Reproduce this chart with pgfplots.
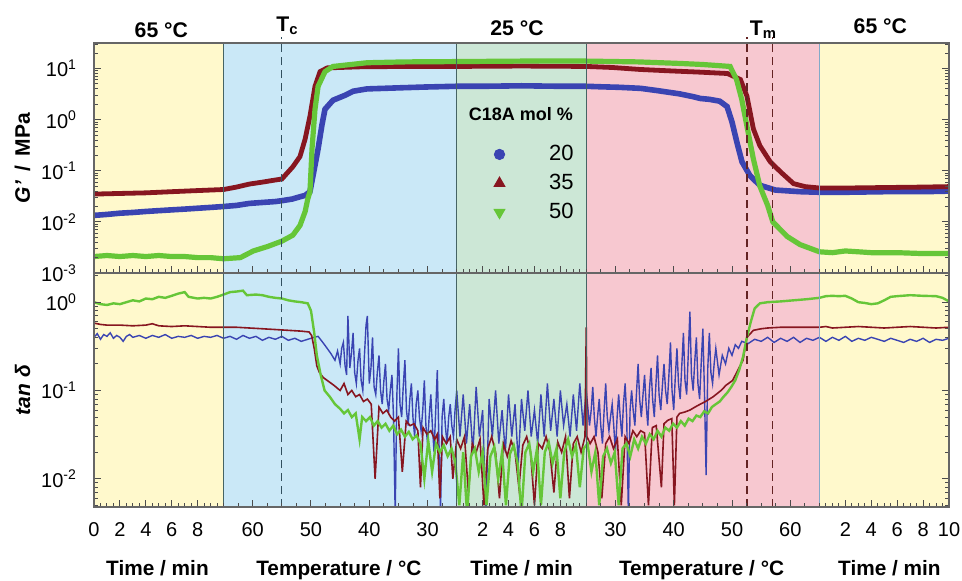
\documentclass[border=0pt]{standalone}
\usepackage{fontspec}
\setmainfont{Liberation Sans}
\usepackage{pgfplots}
\pgfplotsset{compat=1.18}
\definecolor{cblue}{RGB}{58,68,178}
\definecolor{cred}{RGB}{135,22,32}
\definecolor{cgreen}{RGB}{102,198,56}
\definecolor{byel}{RGB}{255,249,204}
\definecolor{bblue}{RGB}{202,232,247}
\definecolor{bgreen}{RGB}{204,231,214}
\definecolor{bpink}{RGB}{247,200,208}
\definecolor{bline}{RGB}{70,100,100}
\definecolor{bline2}{RGB}{130,170,200}
\definecolor{tcc}{RGB}{50,80,95}
\definecolor{tmc}{RGB}{100,35,35}

\begin{document}
\begin{tikzpicture}
\useasboundingbox (-47pt,-36.5pt) rectangle (434pt,253.5pt);

% ---------------- bottom panel: tan delta ----------------
\begin{axis}[at={(0,0)}, anchor=south west, height=117pt,
  width=427.5pt, scale only axis, xmin=0, xmax=66, ymode=log,
  axis on top, clip mode=individual,
  axis line style={draw=black!60, line width=0.7pt},
  xtick pos=bottom, ytick pos=both, tick align=inside,
  major tick length=3.5pt, minor tick length=1.8pt,
  tick style={black!70, line width=0.5pt},
  xtick={0,2,4,6,8,12.25,16.75,21.25,25.75,30,32,34,36,40.25,44.75,49.25,53.75,58,60,62,64,66},
  minor xtick={0.5,1,...,10,28.5,29,...,38,56.5,57,...,66,10,11.125,...,28.1,38,39.125,...,56.1},
  tick label style={font=\fontsize{10}{12}\selectfont},
  xticklabel style={yshift=-4.4pt},
  yticklabel style={xshift=-5pt},
  ymin=0.00479, ymax=2.14,
  ytick={0.01,0.1,1},
  yticklabels={10\textsuperscript{-2},10\textsuperscript{-1},10\textsuperscript{0}},
  minor ytick={0.005,0.006,0.007,0.008,0.009,0.02,0.03,0.04,0.05,0.06,0.07,0.08,0.09,0.2,0.3,0.4,0.5,0.6,0.7,0.8,0.9,2},
  xticklabels={0,2,4,6,8,60,50,40,30,2,4,6,8,30,40,50,60,2,4,6,8,10},
  ylabel={\textbf{\textit{tan δ}}},
  ylabel style={at={(axis description cs:-0.0836,0.5)}, anchor=center, font=\fontsize{10.5}{12}\selectfont},
]
\fill[byel] (rel axis cs:0,0) rectangle (rel axis cs:0.151515,1);
\fill[bblue] (rel axis cs:0.151515,0) rectangle (rel axis cs:0.424242,1);
\fill[bgreen] (rel axis cs:0.424242,0) rectangle (rel axis cs:0.575758,1);
\fill[bpink] (rel axis cs:0.575758,0) rectangle (rel axis cs:0.848485,1);
\fill[byel] (rel axis cs:0.848485,0) rectangle (rel axis cs:1,1);

% blue 20 mol%
\addplot[cblue, line width=0.7pt, forget plot] coordinates {
(0,0.40)(0.25,0.44)(0.5,0.38)(0.75,0.43)(1,0.41)(1.25,0.45)(1.5,0.39)(1.75,0.42)(2,0.40)(2.25,0.36)(2.5,0.41)(2.75,0.43)(3,0.40)(3.5,0.42)(4,0.39)(4.5,0.42)(5,0.40)(5.5,0.43)(6,0.39)(6.5,0.41)(7,0.40)(7.5,0.42)(8,0.39)(8.5,0.41)(9,0.40)(9.5,0.42)(10,0.39)
(10.5,0.41)(11,0.38)(11.5,0.42)(12,0.39)(12.5,0.41)(13,0.37)(13.5,0.40)(14,0.38)(14.5,0.41)(15,0.37)(15.5,0.39)(16,0.36)(16.5,0.38)(17,0.40)(17.3,0.41)(17.6,0.36)(18,0.30)(18.3,0.26)(18.6,0.22)(18.8,0.28)
(19.00,0.20)(19.12,0.30)(19.25,0.35)(19.38,0.19)(19.50,0.15)(19.60,0.70)(19.75,0.18)(19.87,0.26)(20.00,0.45)(20.12,0.16)(20.25,0.12)(20.38,0.22)(20.50,0.30)(20.62,0.13)(20.75,0.10)(20.87,0.24)(21.00,0.55)(21.10,0.70)(21.25,0.12)(21.38,0.18)(21.50,0.40)(21.62,0.11)(21.75,0.09)(21.87,0.16)(22.00,0.25)(22.12,0.10)(22.25,0.07)(22.38,0.13)(22.50,0.20)(22.62,0.08)(22.75,0.06)(22.87,0.10)(23.00,0.15)(23.12,0.05)(23.25,0.004)(23.38,0.09)(23.50,0.30)(23.62,0.07)(23.75,0.05)(23.87,0.11)(24.00,0.22)(24.12,0.06)(24.25,0.04)(24.38,0.08)(24.50,0.12)(24.62,0.05)(24.75,0.03)(24.87,0.07)(25.00,0.10)(25.12,0.05)(25.25,0.035)(25.38,0.06)(25.50,0.13)(25.62,0.04)(25.75,0.025)(25.87,0.05)(26.00,0.09)(26.12,0.04)(26.25,0.02)(26.38,0.06)(26.50,0.17)(26.62,0.03)(26.75,0.004)(26.87,0.05)(27.00,0.08)(27.12,0.04)(27.25,0.025)(27.38,0.05)(27.50,0.07)(27.62,0.04)(27.75,0.03)(27.87,0.06)(28.00,0.10)
(28.25,0.03)(28.50,0.09)(28.75,0.025)(29.00,0.07)(29.25,0.02)(29.50,0.11)(29.75,0.03)(30.00,0.06)(30.25,0.004)(30.50,0.08)(30.75,0.03)(31.00,0.10)(31.25,0.025)(31.50,0.06)(31.75,0.02)(32.00,0.09)(32.25,0.03)(32.50,0.07)(32.75,0.015)(33.00,0.08)(33.25,0.035)(33.50,0.10)(33.75,0.03)(34.00,0.06)(34.25,0.025)(34.50,0.09)(34.75,0.03)(35.00,0.12)(35.25,0.035)(35.50,0.08)(35.75,0.03)(36.00,0.10)(36.25,0.04)(36.50,0.07)(36.75,0.03)(37.00,0.09)(37.25,0.035)(37.50,0.12)(37.75,0.04)(38.00,0.10)
(38.25,0.04)(38.38,0.06)(38.50,0.11)(38.62,0.05)(38.75,0.03)(38.87,0.05)(39.00,0.08)(39.12,0.04)(39.25,0.025)(39.38,0.06)(39.50,0.12)(39.62,0.05)(39.75,0.035)(39.87,0.05)(40.00,0.07)(40.12,0.04)(40.25,0.02)(40.38,0.05)(40.50,0.09)(40.62,0.05)(40.75,0.03)(40.87,0.07)(41.00,0.12)(41.12,0.05)(41.25,0.004)(41.38,0.06)(41.50,0.10)(41.62,0.06)(41.75,0.04)(41.87,0.09)(42.00,0.20)(42.12,0.08)(42.25,0.05)(42.38,0.09)(42.50,0.15)(42.62,0.07)(42.75,0.04)(42.87,0.10)(43.00,0.18)(43.12,0.08)(43.25,0.05)(43.38,0.12)(43.50,0.25)(43.62,0.09)(43.75,0.06)(43.87,0.11)(44.00,0.20)(44.12,0.10)(44.25,0.07)(44.38,0.15)(44.50,0.35)(44.62,0.10)(44.75,0.06)(44.87,0.14)(45.00,0.30)(45.12,0.12)(45.25,0.08)(45.38,0.20)(45.50,0.45)(45.62,0.13)(45.75,0.09)(45.87,0.25)(46.00,0.78)(46.12,0.15)(46.25,0.10)(46.38,0.22)(46.50,0.40)(46.62,0.12)(46.75,0.08)(46.87,0.20)(47.00,0.50)(47.12,0.10)(47.25,0.011)(47.38,0.18)(47.50,0.45)(47.62,0.16)(47.75,0.12)(47.87,0.20)(48.00,0.30)(48.25,0.15)(48.50,0.25)(48.75,0.20)(49.00,0.30)(49.25,0.25)(49.50,0.33)(49.75,0.30)(50.00,0.36)(50.50,0.34)(51.00,0.38)
(51.5,0.36)(52,0.40)(52.5,0.35)(53,0.39)(53.5,0.36)(54,0.40)(54.5,0.35)(55,0.39)(55.5,0.37)(56,0.40)
(56.5,0.36)(57,0.40)(57.5,0.37)(58,0.41)(58.5,0.36)(59,0.39)(59.5,0.37)(60,0.40)(60.5,0.38)(61,0.36)(61.5,0.39)(62,0.37)(62.5,0.35)(63,0.38)(63.5,0.36)(64,0.39)(64.5,0.35)(65,0.38)(65.5,0.37)(66,0.39)
};
% red 35 mol%
\addplot[cred, line width=0.8pt, forget plot] coordinates {
(0,0.58)(0.5,0.56)(1,0.55)(2,0.55)(3,0.54)(4,0.55)(4.5,0.57)(5,0.54)(6,0.53)(7,0.54)(8,0.53)(9,0.52)(10,0.52)
(11,0.52)(12,0.51)(13,0.50)(14,0.49)(15,0.48)(16,0.47)(16.6,0.46)(16.8,0.42)(17.0,0.30)(17.2,0.19)(17.4,0.16)(17.7,0.14)(18,0.13)(18.5,0.115)
(19.0,0.10)(19.3,0.12)(19.6,0.09)(19.9,0.10)(20.2,0.085)(20.5,0.09)(20.8,0.075)(21.1,0.08)(21.4,0.07)(21.7,0.010)(22.0,0.065)(22.3,0.055)(22.6,0.06)(22.9,0.05)(23.2,0.045)(23.5,0.05)(23.8,0.012)(24.1,0.045)(24.4,0.04)(24.7,0.042)(25.0,0.035)(25.2,0.008)(25.4,0.038)(25.7,0.032)(26.0,0.035)(26.3,0.028)(26.5,0.032)(26.7,0.006)(26.9,0.03)(27.2,0.025)(27.5,0.03)(27.7,0.01)(28.0,0.028)
(28.3,0.022)(28.6,0.03)(28.9,0.007)(29.2,0.025)(29.5,0.02)(29.8,0.028)(30.1,0.005)(30.4,0.022)(30.7,0.03)(31.0,0.02)(31.3,0.006)(31.6,0.025)(31.9,0.018)(32.2,0.027)(32.5,0.02)(32.8,0.008)(33.1,0.024)(33.4,0.03)(33.7,0.02)(34.0,0.005)(34.3,0.025)(34.6,0.022)(34.9,0.03)(35.2,0.02)(35.5,0.007)(35.8,0.026)(36.1,0.02)(36.4,0.03)(36.7,0.006)(37.0,0.025)(37.3,0.03)(37.6,0.02)(37.9,0.03)(38.0,0.52)(38.05,0.03)
(38.3,0.025)(38.6,0.03)(38.9,0.02)(39.2,0.006)(39.5,0.025)(39.8,0.03)(40.1,0.022)(40.4,0.028)(40.7,0.005)(41.0,0.03)(41.3,0.025)(41.6,0.035)(41.9,0.03)(42.2,0.035)(42.5,0.033)(42.8,0.005)(43.1,0.038)(43.4,0.04)(43.8,0.008)(44.0,0.042)(44.3,0.046)(44.6,0.048)(44.8,0.005)(45.0,0.05)(45.2,0.055)(45.6,0.057)(46.0,0.06)(46.4,0.065)(46.8,0.07)(47.2,0.075)(47.8,0.085)(48.4,0.10)(48.8,0.115)(49.3,0.13)(49.7,0.17)(50.1,0.22)(50.4,0.40)(50.9,0.48)(51.5,0.50)(52.0,0.51)(53,0.52)(54,0.52)(56,0.52)
(56.5,0.53)(57,0.51)(58,0.52)(59,0.53)(60,0.52)(61,0.51)(62,0.52)(63,0.53)(64,0.52)(65,0.51)(66,0.52)
};
% green 50 mol%
\addplot[cgreen, line width=1.2pt, forget plot] coordinates {
(0,1.0)(0.5,0.95)(1,0.93)(1.5,0.97)(2,0.95)(2.5,1.0)(3,1.05)(3.5,1.02)(4,1.1)(4.5,1.08)(5,1.15)(5.5,1.12)(6,1.18)(6.5,1.25)(7,1.3)(7.3,1.15)(8,1.1)(8.5,1.12)(9,1.1)(9.5,1.15)(10,1.22)
(10.5,1.3)(11,1.32)(11.5,1.35)(11.8,1.2)(12.5,1.22)(13,1.2)(13.5,1.15)(14,1.12)(14.5,1.1)(15,1.05)(15.5,1.02)(16,1.0)(16.5,0.97)(16.75,0.8)(17,0.45)(17.2,0.25)(17.5,0.15)(17.8,0.1)(18.2,0.085)(18.6,0.07)
(19.0,0.062)(19.3,0.055)(19.6,0.06)(19.9,0.05)(20.2,0.055)(20.5,0.028)(20.7,0.05)(21.0,0.045)(21.3,0.05)(21.6,0.04)(21.9,0.045)(22.2,0.038)(22.5,0.042)(22.8,0.035)(23.1,0.04)(23.4,0.032)(23.7,0.036)(24.0,0.03)(24.3,0.034)(24.6,0.028)(24.9,0.031)(25.2,0.025)(25.5,0.01)(25.8,0.027)(26.1,0.012)(26.4,0.025)(26.7,0.02)(27.0,0.024)(27.3,0.018)(27.6,0.022)(27.9,0.015)
(28.2,0.005)(28.5,0.02)(28.8,0.004)(29.1,0.018)(29.4,0.022)(29.7,0.012)(30.0,0.02)(30.3,0.005)(30.6,0.018)(30.9,0.023)(31.2,0.01)(31.5,0.02)(31.8,0.005)(32.1,0.019)(32.4,0.024)(32.7,0.015)(33.0,0.004)(33.3,0.02)(33.6,0.025)(33.9,0.012)(34.2,0.022)(34.5,0.005)(34.8,0.02)(35.1,0.026)(35.4,0.015)(35.7,0.022)(36.0,0.006)(36.3,0.02)(36.6,0.028)(36.9,0.018)(37.2,0.024)(37.5,0.008)(37.8,0.022)
(38.1,0.025)(38.4,0.012)(38.7,0.02)(39.0,0.005)(39.3,0.018)(39.6,0.022)(39.9,0.015)(40.2,0.02)(40.5,0.005)(40.8,0.022)(41.1,0.025)(41.4,0.018)(41.7,0.028)(42.0,0.022)(42.3,0.03)(42.6,0.025)(42.9,0.032)(43.2,0.028)(43.5,0.035)(43.8,0.03)(44.1,0.038)(44.4,0.035)(44.7,0.042)(45.0,0.038)(45.3,0.045)(45.6,0.04)(45.9,0.048)(46.2,0.045)(46.5,0.052)(46.8,0.05)(47.1,0.058)(47.4,0.055)(47.7,0.065)(48.0,0.07)(48.3,0.075)(48.6,0.085)(48.9,0.095)(49.2,0.11)(49.5,0.13)(49.8,0.17)(50.1,0.24)(50.4,0.4)(50.7,0.6)(51.0,0.85)(51.4,0.97)(52,1.0)(53,1.02)(54,1.05)(55,1.08)(56,1.12)
(56.5,1.17)(57,1.18)(57.5,1.17)(58,1.18)(58.5,1.1)(59,1.0)(59.5,0.98)(60,0.95)(60.5,0.97)(61,1.05)(61.5,1.15)(62,1.17)(63,1.2)(64,1.18)(65,1.17)(65.5,1.12)(66,1.02)
};

\draw[bline, line width=0.6pt] (rel axis cs:0.151515,0) -- (rel axis cs:0.151515,1);
\draw[bline, line width=0.6pt] (rel axis cs:0.424242,0) -- (rel axis cs:0.424242,1);
\draw[bline, line width=0.6pt] (rel axis cs:0.575758,0) -- (rel axis cs:0.575758,1);
\draw[bline2, line width=0.6pt] (rel axis cs:0.848485,0) -- (rel axis cs:0.848485,1);
\draw[tcc, line width=0.6pt, dash pattern=on 4pt off 2.5pt] (axis cs:14.5,0.00479) -- (axis cs:14.5,2.14);
\draw[tmc, line width=0.6pt, dash pattern=on 4pt off 2.5pt] (axis cs:50.4,0.00479) -- (axis cs:50.4,2.14);
\draw[tmc, line width=0.6pt, dash pattern=on 4pt off 2.5pt] (axis cs:52.4,0.00479) -- (axis cs:52.4,2.14);

\node[anchor=base, font=\bfseries\fontsize{10.4}{12}\selectfont] at ([yshift=-34pt]axis cs:4.9,0.00479) {Time / min};
\node[anchor=base, font=\bfseries\fontsize{10.4}{12}\selectfont] at ([yshift=-34pt]axis cs:18.9,0.00479) {Temperature / °C};
\node[anchor=base, font=\bfseries\fontsize{10.4}{12}\selectfont] at ([yshift=-34pt]axis cs:33,0.00479) {Time / min};
\node[anchor=base, font=\bfseries\fontsize{10.4}{12}\selectfont] at ([yshift=-34pt]axis cs:46.9,0.00479) {Temperature / °C};
\node[anchor=base, font=\bfseries\fontsize{10.4}{12}\selectfont] at ([yshift=-34pt]axis cs:61.4,0.00479) {Time / min};
\end{axis}

% ---------------- top panel: G' ----------------
\begin{axis}[at={(0,117pt)}, anchor=south west, height=115pt,
  width=427.5pt, scale only axis, xmin=0, xmax=66, ymode=log,
  axis on top, clip mode=individual,
  axis line style={draw=black!60, line width=0.7pt},
  xtick pos=bottom, ytick pos=both, tick align=inside,
  major tick length=3.5pt, minor tick length=1.8pt,
  tick style={black!70, line width=0.5pt},
  xtick={0,2,4,6,8,12.25,16.75,21.25,25.75,30,32,34,36,40.25,44.75,49.25,53.75,58,60,62,64,66},
  minor xtick={0.5,1,...,10,28.5,29,...,38,56.5,57,...,66,10,11.125,...,28.1,38,39.125,...,56.1},
  tick label style={font=\fontsize{10}{12}\selectfont},
  yticklabel style={xshift=-5pt},
  ymin=0.001, ymax=31.62,
  ytick={0.001,0.01,0.1,1,10},
  yticklabels={10\textsuperscript{-3},10\textsuperscript{-2},10\textsuperscript{-1},10\textsuperscript{0},10\textsuperscript{1}},
  minor ytick={0.002,0.003,0.004,0.005,0.006,0.007,0.008,0.009,0.02,0.03,0.04,0.05,0.06,0.07,0.08,0.09,0.2,0.3,0.4,0.5,0.6,0.7,0.8,0.9,2,3,4,5,6,7,8,9,20,30},
  xticklabels={},
  ylabel={\textbf{\textit{G'}\, / \,MPa}},
  ylabel style={at={(axis description cs:-0.0836,0.5)}, anchor=center, font=\fontsize{10.5}{12}\selectfont},
  legend style={draw=none, fill=none, at={(axis description cs:0.573,0.592)}, anchor=north east,
    font=\fontsize{11}{13}\selectfont, row sep=1.3pt,
    /tikz/every odd column/.append style={column sep=20pt}},
  legend cell align=right,
]
\addlegendimage{only marks, mark=*, mark size=2.6pt, color=cblue}
\addlegendimage{only marks, mark=triangle*, mark size=3.2pt, color=cred}
\addlegendimage{only marks, mark=triangle*, mark size=3.2pt, mark options={rotate=180}, color=cgreen}

\fill[byel] (rel axis cs:0,0) rectangle (rel axis cs:0.151515,1);
\fill[bblue] (rel axis cs:0.151515,0) rectangle (rel axis cs:0.424242,1);
\fill[bgreen] (rel axis cs:0.424242,0) rectangle (rel axis cs:0.575758,1);
\fill[bpink] (rel axis cs:0.575758,0) rectangle (rel axis cs:0.848485,1);
\fill[byel] (rel axis cs:0.848485,0) rectangle (rel axis cs:1,1);

\addplot[cblue, line width=2.8pt, forget plot] coordinates {
(0,0.0134)(1,0.014)(2,0.0148)(3,0.0153)(4,0.016)(5,0.0166)(6,0.0172)(7,0.0178)(8,0.0185)(9,0.0192)(10,0.02)(11,0.021)(12,0.023)(13,0.024)(14,0.025)(14.5,0.026)(15.3,0.028)(15.9,0.031)(16.3,0.033)(16.67,0.039)(16.98,0.1)(17.3,0.27)(17.6,0.8)(17.83,1.6)(18.45,2.4)(19.38,3.0)(20,3.6)(21.07,4.0)(23.6,4.2)(25.5,4.35)(27.95,4.5)(30,4.5)(33,4.6)(36,4.5)(38,4.5)(39.1,4.4)(40.5,4.3)(42.2,4.1)(43.5,3.7)(45.2,3.2)(46.3,2.8)(46.8,2.6)(47.5,2.5)(48.3,2.3)(48.87,1.8)(49.25,0.9)(49.64,0.35)(50.02,0.15)(50.64,0.08)(51.4,0.052)(52.6,0.042)(54.5,0.039)(56,0.038)(58,0.038)(61,0.039)(64,0.039)(66,0.04)
};
\addplot[cred, line width=2.4pt, forget plot] coordinates {
(0,0.035)(2,0.036)(4,0.037)(6,0.039)(8,0.041)(10,0.043)(11,0.048)(12,0.055)(13,0.06)(14,0.066)(14.5,0.069)(15.35,0.12)(15.9,0.19)(16.3,0.42)(16.67,1.17)(17.06,4.5)(17.45,8.7)(18,10.3)(20.5,10.8)(24,11)(28,11)(33,11.2)(38,11)(40,10.5)(42.15,9.6)(44.5,9)(46.8,8.5)(48.9,8)(49.9,6.1)(50.4,2.9)(50.9,0.66)(51.4,0.31)(52.2,0.15)(53,0.095)(54,0.056)(54.9,0.049)(56,0.046)(58,0.046)(61,0.047)(64,0.048)(66,0.049)
};
\addplot[cgreen, line width=2.6pt, forget plot] coordinates {
(0,0.0021)(1,0.0022)(2,0.0021)(3,0.0022)(4,0.0021)(5,0.0022)(6,0.0021)(7,0.0021)(8,0.002)(9,0.002)(10,0.0019)(11.3,0.002)(12.3,0.0027)(13.4,0.0033)(14.5,0.0042)(15.35,0.0055)(15.9,0.0085)(16.3,0.016)(16.5,0.028)(16.67,0.039)(16.83,0.27)(17.06,1.6)(17.3,4.5)(17.83,8.7)(18.45,11)(21.07,13)(24,13.5)(28,13.7)(33,14)(38,14)(42,13.5)(45.2,12.6)(47,12)(49.1,11)(49.6,6.1)(50.0,2.5)(50.4,0.75)(50.9,0.17)(51.4,0.05)(52,0.021)(52.4,0.01)(53.5,0.0052)(54.5,0.0036)(56,0.0026)(57,0.0025)(58,0.0027)(59,0.0026)(60,0.0025)(62,0.0025)(64,0.0024)(66,0.0024)
};

\draw[bline, line width=0.6pt] (rel axis cs:0.151515,0) -- (rel axis cs:0.151515,1);
\draw[bline, line width=0.6pt] (rel axis cs:0.424242,0) -- (rel axis cs:0.424242,1);
\draw[bline, line width=0.6pt] (rel axis cs:0.575758,0) -- (rel axis cs:0.575758,1);
\draw[bline2, line width=0.6pt] (rel axis cs:0.848485,0) -- (rel axis cs:0.848485,1);
\draw[tcc, line width=0.6pt, dash pattern=on 4pt off 2.5pt] (axis cs:14.5,0.001) -- ([yshift=3pt]axis cs:14.5,31.62);
\draw[tmc, line width=0.6pt, dash pattern=on 4pt off 2.5pt] (axis cs:50.4,0.001) -- ([yshift=3pt]axis cs:50.4,31.62);
\draw[tmc, line width=0.6pt, dash pattern=on 4pt off 2.5pt] (axis cs:52.4,0.001) -- ([yshift=3pt]axis cs:52.4,31.62);

\node[font=\bfseries\fontsize{9}{11}\selectfont, anchor=center] at (axis cs:32.96,1.28) {C18A mol \%};

\node[anchor=base, font=\bfseries\fontsize{10.6}{12}\selectfont] at ([yshift=3pt]axis cs:5.2,31.62) {65 °C};
\node[anchor=base, font=\bfseries\fontsize{10.6}{12}\selectfont] at ([yshift=4pt]axis cs:32.65,31.62) {25 °C};
\node[anchor=base, font=\bfseries\fontsize{10.6}{12}\selectfont] at ([yshift=5pt]axis cs:60.7,31.62) {65 °C};
\node[anchor=base west, inner sep=0pt, font=\bfseries\fontsize{10.6}{12}\selectfont] at ([yshift=6pt]axis cs:14.05,31.62) {T\textsubscript{c}};
\node[anchor=base west, inner sep=0pt, font=\bfseries\fontsize{10.6}{12}\selectfont] at ([yshift=4pt]axis cs:50.6,31.62) {T\textsubscript{m}};
\legend{20,35,50}
\end{axis}
\end{tikzpicture}
\end{document}
